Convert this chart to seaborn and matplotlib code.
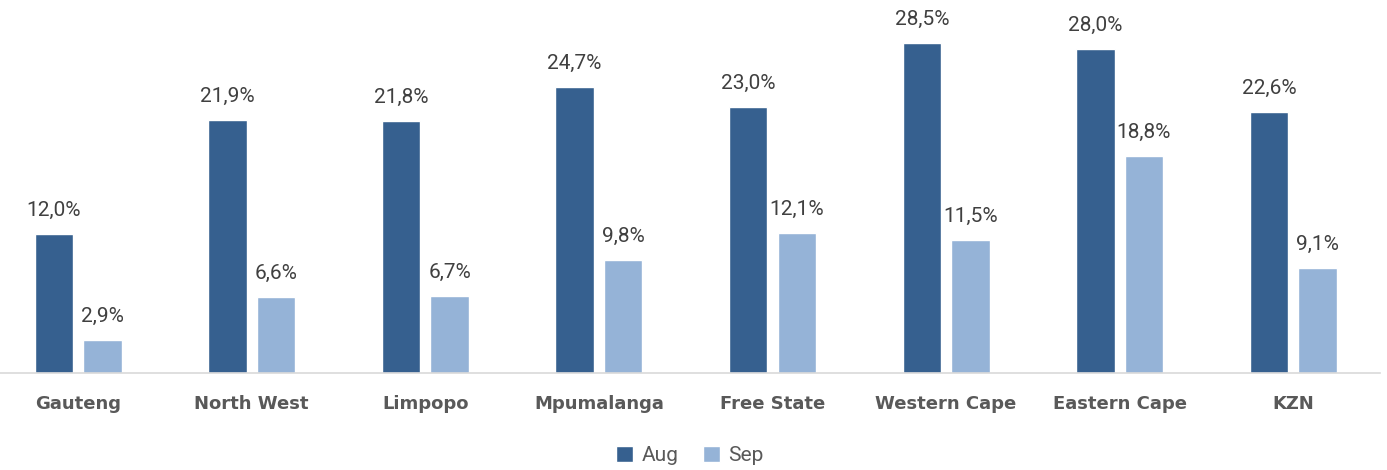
import numpy as np
import pandas as pd
import matplotlib
matplotlib.use('Agg')
import matplotlib.pyplot as plt
import seaborn as sns

# --- Data ---
provinces = ['Gauteng', 'North West', 'Limpopo', 'Mpumalanga', 'Free State',
             'Western Cape', 'Eastern Cape', 'KZN']
aug = [12.0, 21.9, 21.8, 24.7, 23.0, 28.5, 28.0, 22.6]
sep = [2.9, 6.6, 6.7, 9.8, 12.1, 11.5, 18.8, 9.1]
months = ['Aug', 'Sep']

df = pd.DataFrame({
    'province': provinces * 2,
    'value': aug + sep,
    'month': ['Aug'] * len(aug) + ['Sep'] * len(sep),
})

sns.set_style('white')
plt.rcParams['font.family'] = ['DejaVu Sans']
num_font = 'Roboto'

fig = plt.figure(figsize=(13.87, 4.70), dpi=100)
ax = fig.add_axes([0.0, 0.206, 0.995, 0.739])

sns.barplot(data=df, x='province', y='value', hue='month', hue_order=months,
            palette=['#36608F', '#95B3D7'], width=0.56, gap=0.21,
            saturation=1, ax=ax, legend=True)

for cont in ax.containers:
    ax.bar_label(cont, labels=[f'{v:.1f}%'.replace('.', ',') for v in cont.datavalues],
                 padding=10, fontsize=15, color='#404040', family=num_font)

ax.set_ylim(0, 30)
ax.set_xlim(-0.45, 7.5)
ax.set_xlabel('')
ax.set_ylabel('')
ax.set_yticks([])
for s in ['top', 'right', 'left']:
    ax.spines[s].set_visible(False)
ax.spines['bottom'].set_color('#D9D9D9')
ax.spines['bottom'].set_linewidth(1.2)
ax.tick_params(axis='x', length=0, pad=16)
for t in ax.get_xticklabels():
    t.set_fontsize(13)
    t.set_fontweight('bold')
    t.set_color('#595959')

leg = ax.legend(loc='upper center', bbox_to_anchor=(0.5, -0.155), ncol=2, frameon=False,
                handlelength=0.8, handleheight=0.8, handletextpad=0.4, columnspacing=1.2,
                prop={'family': num_font, 'size': 15})
for t in leg.get_texts():
    t.set_color('#595959')

fig.savefig('out.png', dpi=100)
